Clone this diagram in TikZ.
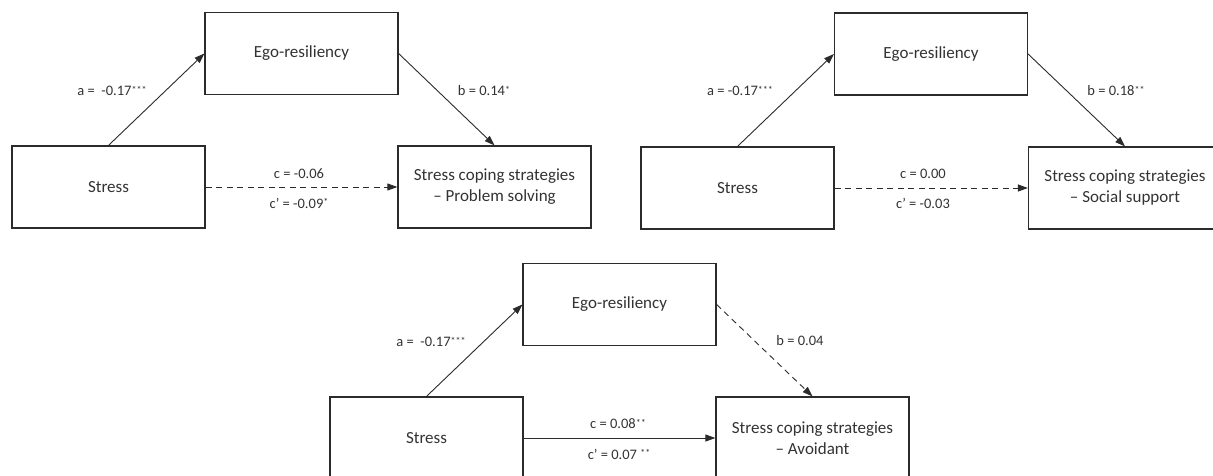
\documentclass[tikz,border=0pt]{standalone}
\usepackage{fontspec}
\setmainfont{Carlito}
\usetikzlibrary{arrows.meta}
\definecolor{ink}{HTML}{2B2B2B}
\definecolor{txt}{HTML}{333333}
\newcommand{\sig}[1]{{\fontsize{10}{10}\selectfont\raisebox{0.22em}{#1}}}
\tikzset{
  box/.style={draw=ink, line width=1.2pt, minimum width=193pt, minimum height=82pt,
    inner sep=0pt, text=txt, font=\fontsize{17}{21}\selectfont, align=center},
  lab/.style={text=txt, font=\fontsize{14.5}{16}\selectfont, inner sep=0pt},
  arr/.style={draw=ink, line width=0.9pt, -{Triangle[length=10pt,width=7pt]}},
  dsh/.style={arr, dash pattern=on 6pt off 4.5pt},
}
\begin{document}
\begin{tikzpicture}[x=1pt,y=-1pt]
\useasboundingbox (0,0) rectangle (1213,476);
\fill[white] (0,0) rectangle (1213,476);
% ---------- panel 1 ----------
\node[box] (s1) at (108.5,187) {Stress};
\node[box] (e1) at (301.5,53.5) {Ego-resiliency};
\node[box] (o1) at (494.5,187) {Stress coping strategies\\– Problem solving};
\draw[arr] (s1.north) -- (e1.west);
\draw[arr] (e1.east) -- (o1.north);
\draw[dsh] (s1.east) -- (o1.west);
\node[lab] (a1) at (112,91) {a =\ \ -0.17\sig{***}};
\node[lab] (b1) at (484,91) {b = 0.14\sig{*}};
\node[lab] (c1) at (299,174) {c = -0.06};
\node[lab] (d1) at (299,203) {c’ = -0.09\sig{*}};
% ---------- panel 2 ----------
\node[box] (s2) at (737.5,188) {Stress};
\node[box] (e2) at (931,54) {Ego-resiliency};
\node[box] (o2) at (1125,188) {Stress coping strategies\\– Social support};
\draw[arr] (s2.north) -- (e2.west);
\draw[arr] (e2.east) -- (o2.north);
\draw[dsh] (s2.east) -- (o2.west);
\node[lab] (a2) at (740,91) {a = -0.17\sig{***}};
\node[lab] (b2) at (1116,91) {b = 0.18\sig{**}};
\node[lab] (c2) at (923,174) {c = 0.00};
\node[lab] (d2) at (923,203) {c’ = -0.03};
% ---------- panel 3 ----------
\node[box] (s3) at (426.5,438) {Stress};
\node[box] (e3) at (619.5,304.5) {Ego-resiliency};
\node[box] (o3) at (812.5,438) {Stress coping strategies\\– Avoidant};
\draw[arr] (s3.north) -- (e3.west);
\draw[dsh] (e3.east) -- (o3.north);
\draw[arr] (s3.east) -- (o3.west);
\node[lab] (a3) at (431,342) {a =\ \ -0.17\sig{***}};
\node[lab] (b3) at (800,341) {b = 0.04};
\node[lab] (c3) at (618,424) {c = 0.08\sig{**}};
\node[lab] (d3) at (619,454) {c’ = 0.07 \sig{**}};
\end{tikzpicture}
\end{document}
